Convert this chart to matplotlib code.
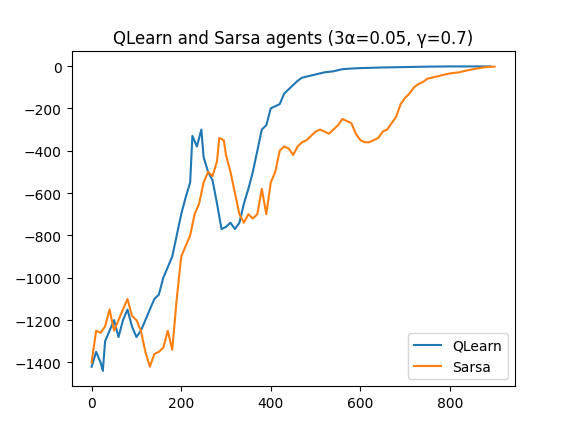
import matplotlib
matplotlib.use("Agg")
import matplotlib.pyplot as plt

q_x = [0, 10, 20, 25, 30, 40, 50, 60, 70, 80, 90, 100, 110, 120, 130, 140, 150, 160, 170,
       180, 190, 200, 210, 220, 225, 235, 245, 250, 260, 270, 280, 290, 300, 310, 320,
       330, 340, 350, 360, 370, 380, 390, 400, 410, 420, 430, 440, 450, 460, 470, 480,
       490, 500, 520, 540, 560, 580, 600, 650, 700, 750, 800, 850, 890]
q_y = [-1420, -1350, -1400, -1440, -1300, -1250, -1200, -1280, -1200, -1150, -1230, -1280,
       -1250, -1200, -1150, -1100, -1080, -1000, -950, -900, -800, -700, -620, -550,
       -330, -380, -300, -430, -500, -540, -650, -770, -760, -740, -770, -740, -650,
       -580, -500, -400, -300, -280, -200, -190, -180, -130, -110, -90, -70, -55, -50,
       -45, -40, -30, -25, -15, -12, -10, -7, -5, -3, -2, -2, -2]

s_x = [0, 10, 20, 30, 40, 50, 60, 70, 80, 90, 100, 110, 120, 130, 140, 150, 160, 170,
       180, 190, 200, 210, 220, 230, 240, 250, 260, 270, 280, 285, 295, 300, 310, 320,
       330, 340, 350, 360, 370, 380, 390, 400, 410, 420, 430, 440, 450, 460, 470, 480,
       490, 500, 510, 520, 530, 540, 550, 560, 570, 580, 590, 600, 610, 620, 630, 640,
       650, 660, 670, 680, 690, 700, 710, 720, 730, 740, 750, 760, 780, 800, 820, 840,
       860, 880, 900]
s_y = [-1400, -1250, -1260, -1230, -1150, -1250, -1200, -1150, -1100, -1180, -1200,
       -1250, -1350, -1420, -1360, -1350, -1330, -1250, -1340, -1100, -900, -850, -800,
       -700, -650, -550, -500, -520, -450, -340, -350, -420, -500, -600, -700, -740,
       -700, -720, -700, -580, -700, -550, -500, -400, -380, -390, -420, -380, -360,
       -350, -330, -310, -300, -310, -320, -300, -280, -250, -260, -270, -320, -350,
       -360, -360, -350, -340, -310, -300, -270, -240, -180, -150, -130, -100, -85,
       -75, -60, -55, -45, -35, -30, -20, -12, -5, -3]

fig, ax = plt.subplots(figsize=(5.72, 4.35), dpi=100)
ax.plot(q_x, q_y, label="QLearn")
ax.plot(s_x, s_y, label="Sarsa")
ax.set_title("QLearn and Sarsa agents (3α=0.05, γ=0.7)")
ax.legend(loc="lower right")
fig.savefig("out.png")
